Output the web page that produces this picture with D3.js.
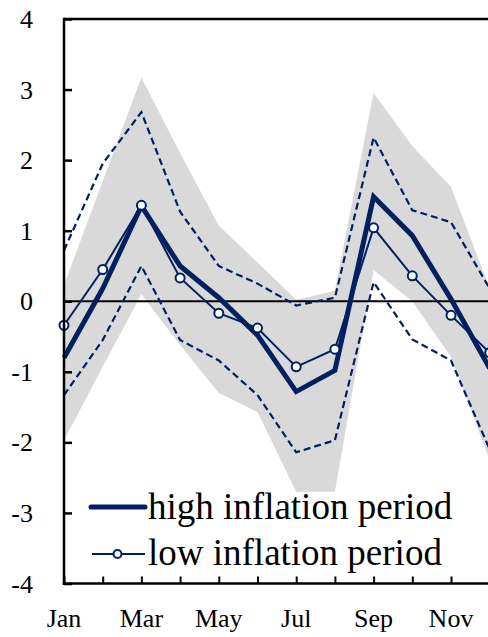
<!DOCTYPE html>
<html>
<head>
<meta charset="utf-8">
<script src="https://cdn.jsdelivr.net/npm/d3@7"></script>
<style>
  html, body { margin: 0; padding: 0; background: #fff; }
  svg { display: block; }
</style>
</head>
<body>
<div id="chart"></div>
<script>
const months = ["Jan","Feb","Mar","Apr","May","Jun","Jul","Aug","Sep","Oct","Nov","Dec"];
const tickLabelMonths = ["Jan","Mar","May","Jul","Sep","Nov"];
const yTicks = [-4,-3,-2,-1,0,1,2,3,4];

const highInflation = [-0.80, 0.18, 1.35, 0.50, 0.05, -0.48, -1.28, -0.98, 1.48, 0.93, 0.03, -0.95];
const lowInflation  = [-0.34, 0.45, 1.36, 0.33, -0.17, -0.38, -0.93, -0.68, 1.04, 0.36, -0.20, -0.73];
const upperDashed   = [0.72, 1.95, 2.68, 1.27, 0.50, 0.25, -0.06, 0.05, 2.32, 1.29, 1.12, 0.18];
const lowerDashed   = [-1.33, -0.55, 0.50, -0.55, -0.84, -1.33, -2.14, -1.97, 0.27, -0.54, -0.84, -2.10];
const bandUpper     = [0.23, 1.70, 3.17, 2.10, 1.07, 0.55, 0.02, 0.15, 2.95, 2.20, 1.62, 0.18];
const bandLower     = [-1.97, -0.93, 0.10, -0.62, -1.30, -1.57, -2.70, -2.70, 0.44, 0.00, -0.79, -2.25];

const legendLabels = ["high inflation period", "low inflation period"];

const W = 488, H = 637;
const navy = "#002060";
const serif = "'Liberation Serif', 'Times New Roman', Times, serif";

const svg = d3.select("#chart").append("svg").attr("width", W).attr("height", H)
  .attr("font-family", serif);

const x = d3.scaleLinear().domain([0, 11]).range([64, 489.7]);
const y = d3.scaleLinear().domain([-4, 4]).range([583.5, 19]);

const idx = months.map((m, i) => i);

// band
const area = d3.area().x(i => x(i)).y0(i => y(bandLower[i])).y1(i => y(bandUpper[i]));
svg.append("path").datum(idx).attr("d", area).attr("fill", "#d9d9d9");

// zero line
svg.append("line").attr("x1", x(0)).attr("x2", W + 5).attr("y1", y(0)).attr("y2", y(0))
  .attr("stroke", "#000").attr("stroke-width", 2);

const lineOf = arr => d3.line().x(i => x(i)).y(i => y(arr[i]))(idx);

// dashed lines
[upperDashed, lowerDashed].forEach(arr => {
  svg.append("path").attr("d", lineOf(arr)).attr("fill", "none")
    .attr("stroke", navy).attr("stroke-width", 2.2).attr("stroke-dasharray", "7,4");
});

// high inflation thick
svg.append("path").attr("d", lineOf(highInflation)).attr("fill", "none")
  .attr("stroke", navy).attr("stroke-width", 5).attr("stroke-linejoin", "miter");

// low inflation thin with markers
svg.append("path").attr("d", lineOf(lowInflation)).attr("fill", "none")
  .attr("stroke", navy).attr("stroke-width", 2);
svg.selectAll("circle.low").data(idx).enter().append("circle").attr("class", "low")
  .attr("cx", i => x(i)).attr("cy", i => y(lowInflation[i])).attr("r", 4.5)
  .attr("fill", "#fff").attr("stroke", navy).attr("stroke-width", 2);

// frame: top border
svg.append("line").attr("x1", x(0)).attr("x2", W + 5).attr("y1", y(4)).attr("y2", y(4))
  .attr("stroke", "#000").attr("stroke-width", 2.5);

// y axis
const yAxis = d3.axisRight(y).tickValues(yTicks).tickSize(8).tickFormat("");
const gy = svg.append("g").attr("transform", `translate(${x(0)},0)`).call(yAxis);
gy.select(".domain").remove();
gy.selectAll(".tick line").attr("stroke", "#000").attr("stroke-width", 2.5);
svg.append("line").attr("x1", x(0)).attr("x2", x(0)).attr("y1", y(4) - 1.25).attr("y2", y(-4) + 1.25)
  .attr("stroke", "#000").attr("stroke-width", 2.5);
svg.selectAll("text.ylab").data(yTicks).enter().append("text").attr("class", "ylab")
  .attr("x", 33).attr("y", d => y(d) + 9).attr("text-anchor", "end")
  .attr("font-family", serif).attr("font-size", 26).attr("fill", "#000").text(d => d);

// x axis
const xAxis = d3.axisTop(x).tickValues(idx).tickSize(7).tickFormat("");
const gx = svg.append("g").attr("transform", `translate(0,${y(-4)})`).call(xAxis);
gx.select(".domain").remove();
gx.selectAll(".tick line").attr("stroke", "#000").attr("stroke-width", 2);
svg.append("line").attr("x1", x(0) - 1.25).attr("x2", W + 5).attr("y1", y(-4)).attr("y2", y(-4))
  .attr("stroke", "#000").attr("stroke-width", 2.5);
svg.selectAll("text.xlab").data(tickLabelMonths).enter().append("text").attr("class", "xlab")
  .attr("x", m => x(months.indexOf(m))).attr("y", 627).attr("text-anchor", "middle")
  .attr("font-family", serif).attr("font-size", 26).attr("fill", "#000").text(m => m);

// legend
const lg = svg.append("g").attr("font-family", serif);
lg.append("line").attr("x1", 91).attr("x2", 145).attr("y1", 507).attr("y2", 507)
  .attr("stroke", navy).attr("stroke-width", 5).attr("stroke-linecap", "round");
lg.append("text").attr("x", 148).attr("y", 519).attr("font-size", 37).attr("fill", "#000").text(legendLabels[0]);
lg.append("line").attr("x1", 92).attr("x2", 145).attr("y1", 554).attr("y2", 554)
  .attr("stroke", navy).attr("stroke-width", 2);
lg.append("circle").attr("cx", 117.5).attr("cy", 554).attr("r", 4)
  .attr("fill", "#fff").attr("stroke", navy).attr("stroke-width", 2);
lg.append("text").attr("x", 148).attr("y", 565).attr("font-size", 37).attr("fill", "#000").text(legendLabels[1]);
</script>
</body>
</html>
